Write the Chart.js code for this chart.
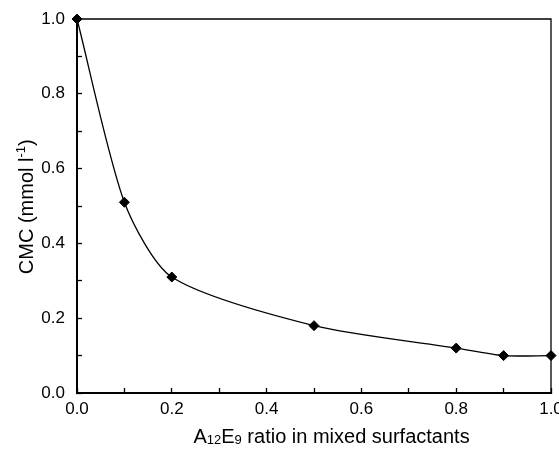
<!DOCTYPE html>
<html>
<head>
<meta charset="utf-8">
<script src="https://cdn.jsdelivr.net/npm/chart.js@4.4.1/dist/chart.umd.min.js"></script>
<style>
  html, body { margin: 0; padding: 0; background: #fff; }
  canvas { display: block; }
</style>
</head>
<body>
<canvas id="c" width="559" height="449"></canvas>
<script>
// ---- data ----
const ratios = [0.0, 0.1, 0.2, 0.5, 0.8, 0.9, 1.0];
const cmcValues = [1.0, 0.51, 0.31, 0.18, 0.12, 0.10, 0.10];
const xTickLabels = ['0.0', '0.2', '0.4', '0.6', '0.8', '1.0'];
const yTickLabels = ['0.0', '0.2', '0.4', '0.6', '0.8', '1.0'];

const FONT = "'Liberation Sans', Arial, Helvetica, sans-serif";

function labelFor(list, value) {
  const s = (Math.round(value * 10) / 10).toFixed(1);
  return list.includes(s) ? s : '';
}

const framePlugin = {
  id: 'frame',
  beforeDatasetsDraw(chart) {
    const { ctx, chartArea: a } = chart;
    ctx.save();
    ctx.strokeStyle = '#000';
    ctx.lineWidth = 1.3;
    ctx.beginPath();
    ctx.moveTo(a.left, a.top);
    ctx.lineTo(a.right, a.top);
    ctx.lineTo(a.right, a.bottom);
    ctx.stroke();
    ctx.restore();
  }
};

function drawRich(ctx, parts, x, y, align) {
  let total = 0;
  parts.forEach(p => { ctx.font = p.size + 'px ' + FONT; p.w = ctx.measureText(p.t).width; total += p.w; });
  let cx = align === 'center' ? x - total / 2 : x;
  parts.forEach(p => {
    ctx.font = p.size + 'px ' + FONT;
    ctx.fillText(p.t, cx, y + (p.dy || 0));
    cx += p.w;
  });
}

const titlesPlugin = {
  id: 'titles',
  afterDraw(chart) {
    const { ctx, chartArea: a } = chart;
    ctx.save();
    ctx.fillStyle = '#000';
    ctx.textBaseline = 'alphabetic';
    ctx.textAlign = 'left';
    // x axis title
    drawRich(ctx, [
      { t: 'A', size: 20 },
      { t: '12', size: 13, dy: 1 },
      { t: 'E', size: 20 },
      { t: '9', size: 13, dy: 1 },
      { t: ' ratio in mixed surfactants', size: 20 }
    ], a.left + (a.right - a.left) * 0.537, a.bottom + 50, 'center');
    // y axis title
    ctx.translate(33, a.top + (a.bottom - a.top) * 0.502);
    ctx.rotate(-Math.PI / 2);
    drawRich(ctx, [
      { t: 'CMC (mmol l', size: 20 },
      { t: '-1', size: 13, dy: -8 },
      { t: ')', size: 20 }
    ], 0, 0, 'center');
    ctx.restore();
  }
};

new Chart(document.getElementById('c'), {
  type: 'line',
  data: {
    datasets: [{
      data: ratios.map((r, i) => ({ x: r, y: cmcValues[i] })),
      borderColor: '#000',
      borderWidth: 1.3,
      backgroundColor: '#000',
      tension: 0.25,
      pointStyle: 'rectRot',
      pointRadius: 5,
      pointBorderWidth: 1,
      pointBackgroundColor: '#000',
      pointBorderColor: '#000',
      fill: false,
      clip: false
    }]
  },
  options: {
    responsive: false,
    animation: false,
    events: [],
    layout: { padding: { left: 0, right: 8, top: 19, bottom: 0 } },
    plugins: { legend: { display: false }, tooltip: { enabled: false }, title: { display: false } },
    scales: {
      x: {
        type: 'linear',
        min: 0, max: 1,
        afterFit(s) { s.height = 56; s.paddingLeft = 0; s.paddingRight = 0; },
        border: { display: true, color: '#000', width: 2 },
        grid: { drawOnChartArea: false, drawTicks: true, tickLength: -5, tickColor: '#000', tickWidth: 1.3 },
        ticks: {
          stepSize: 0.1, autoSkip: false, maxRotation: 0, padding: 11,
          color: '#000', font: { family: FONT, size: 17 },
          callback: v => labelFor(xTickLabels, v)
        }
      },
      y: {
        type: 'linear',
        min: 0, max: 1,
        afterFit(s) { s.width = 77; s.paddingTop = 0; s.paddingBottom = 0; },
        border: { display: true, color: '#000', width: 2 },
        grid: { drawOnChartArea: false, drawTicks: true, tickLength: -5, tickColor: '#000', tickWidth: 1.3 },
        ticks: {
          stepSize: 0.1, autoSkip: false, padding: 17,
          color: '#000', font: { family: FONT, size: 17 },
          callback: v => labelFor(yTickLabels, v)
        }
      }
    }
  },
  plugins: [framePlugin, titlesPlugin]
});
</script>
</body>
</html>
